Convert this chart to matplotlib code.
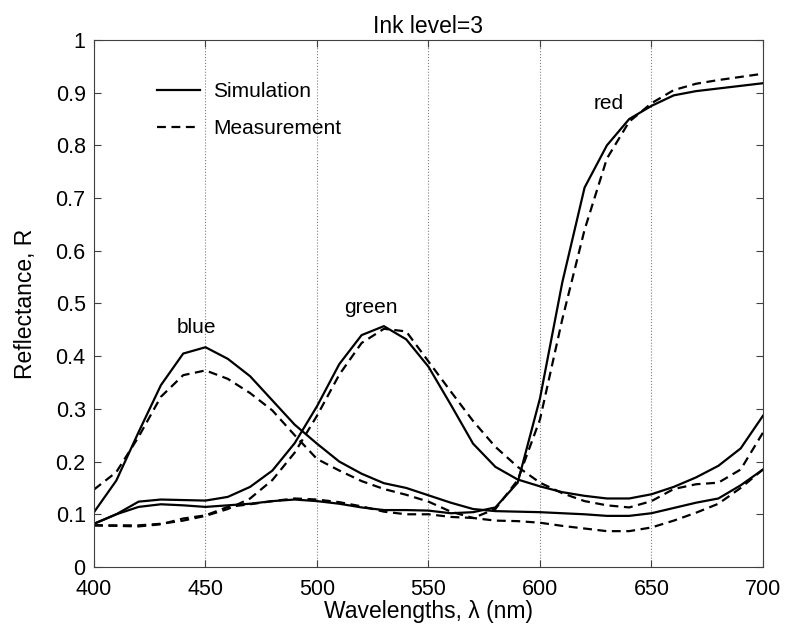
import numpy as np
import matplotlib
matplotlib.use("Agg")
import matplotlib.pyplot as plt
from matplotlib.lines import Line2D

plt.rcParams['font.family'] = ['Liberation Sans', 'DejaVu Sans']

# wavelengths, 10 nm steps
wl = np.arange(400, 701, 10)

blue_sim = [0.104, 0.164, 0.256, 0.345, 0.405, 0.417, 0.395, 0.362, 0.316, 0.270,
            0.234, 0.200, 0.177, 0.159, 0.150, 0.136, 0.122, 0.110, 0.106, 0.105,
            0.104, 0.102, 0.100, 0.097, 0.097, 0.102, 0.112, 0.122, 0.130, 0.155,
            0.185]
blue_meas = [0.147, 0.180, 0.247, 0.323, 0.364, 0.373, 0.357, 0.330, 0.297, 0.250,
             0.205, 0.183, 0.163, 0.148, 0.137, 0.124, 0.105, 0.093, 0.088, 0.087,
             0.084, 0.078, 0.073, 0.068, 0.068, 0.075, 0.088, 0.103, 0.120, 0.150,
             0.185]
green_sim = [0.082, 0.100, 0.124, 0.128, 0.127, 0.126, 0.133, 0.152, 0.183, 0.235,
             0.305, 0.385, 0.440, 0.457, 0.432, 0.380, 0.308, 0.234, 0.190, 0.166,
             0.153, 0.142, 0.135, 0.130, 0.130, 0.138, 0.152, 0.170, 0.192, 0.225,
             0.287]
green_meas = [0.079, 0.079, 0.079, 0.082, 0.088, 0.097, 0.110, 0.130, 0.165, 0.217,
              0.287, 0.365, 0.425, 0.452, 0.447, 0.390, 0.333, 0.277, 0.228, 0.190,
              0.160, 0.140, 0.125, 0.117, 0.113, 0.125, 0.148, 0.157, 0.160, 0.185,
              0.255]
red_sim = [0.082, 0.100, 0.114, 0.119, 0.117, 0.114, 0.117, 0.120, 0.125, 0.128,
           0.125, 0.120, 0.113, 0.108, 0.108, 0.107, 0.102, 0.104, 0.113, 0.160,
           0.320, 0.540, 0.720, 0.800, 0.850, 0.875, 0.895, 0.903, 0.908, 0.913,
           0.918]
red_meas = [0.079, 0.078, 0.077, 0.081, 0.092, 0.098, 0.114, 0.119, 0.125, 0.130,
            0.128, 0.123, 0.115, 0.105, 0.100, 0.100, 0.095, 0.093, 0.110, 0.165,
            0.280, 0.470, 0.640, 0.775, 0.845, 0.880, 0.905, 0.917, 0.924, 0.930,
            0.936]

labels = ["blue", "green", "red"]
label_x = [446, 524, 631]
label_y = [0.455, 0.492, 0.88]

fig = plt.figure(figsize=(7.86, 6.34), dpi=100)
ax = fig.add_axes([0.1196, 0.1057, 0.8511, 0.8312])

dash = (0, (4, 2.5))
for sim, meas in [(blue_sim, blue_meas), (green_sim, green_meas), (red_sim, red_meas)]:
    ax.plot(wl, sim, color="black", linewidth=1.6)
    ax.plot(wl, meas, color="black", linewidth=1.6, linestyle=dash)

for txt, x, y in zip(labels, label_x, label_y):
    ax.text(x, y, txt, fontsize=15, ha="center", va="center")

ax.set_xlim(400, 700)
ax.set_ylim(0, 1)
ax.set_xticks(np.arange(400, 701, 50))
ax.set_yticks(np.arange(0, 1.01, 0.1))
ax.set_yticklabels(["0", "0.1", "0.2", "0.3", "0.4", "0.5", "0.6", "0.7", "0.8", "0.9", "1"])
ax.tick_params(direction="in", top=True, right=True, labelsize=15.5, length=5,
               color="#404040")
ax.tick_params(axis="y", pad=6)
ax.tick_params(axis="x", pad=9)
for s in ax.spines.values():
    s.set_color("#404040")
    s.set_linewidth(0.8)
ax.xaxis.grid(True, linestyle=":", color="#808080", linewidth=0.8)

ax.set_title("Ink level=3", fontsize=16.5, pad=5)
ax.set_xlabel("Wavelengths, λ (nm)", fontsize=16.5, labelpad=0)
ax.set_ylabel("Reflectance, R", fontsize=16.5, labelpad=13)

handles = [Line2D([], [], color="black", linewidth=1.6),
           Line2D([], [], color="black", linewidth=1.6, linestyle=dash)]
ax.legend(handles, ["Simulation", "Measurement"], loc="upper left",
          bbox_to_anchor=(0.094, 0.92), frameon=False, fontsize=15,
          borderpad=0, borderaxespad=0,
          handlelength=2.07, handletextpad=0.63, labelspacing=0.88)

fig.savefig("out.png", dpi=100)
